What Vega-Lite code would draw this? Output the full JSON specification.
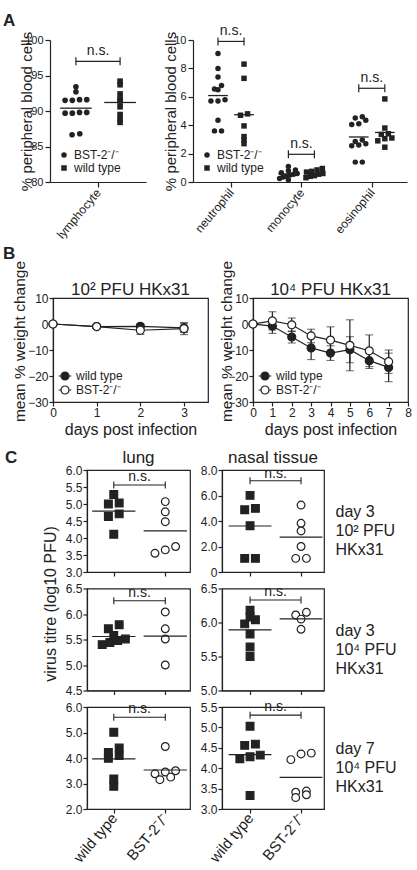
{
  "$schema": "https://vega.github.io/schema/vega-lite/v6.json",
  "padding": {"left": 2, "top": 12, "right": 2, "bottom": 0},
  "spacing": 0,
  "resolve": {"scale": {"shape": "independent", "fill": "independent"}, "legend": {"shape": "independent", "fill": "independent"}},
  "datasets": {
    "blood": [
      {"cell": "lymphocyte", "genotype": "BST-2⁻/⁻", "pct": 93.4},
      {"cell": "lymphocyte", "genotype": "BST-2⁻/⁻", "pct": 92.7},
      {"cell": "lymphocyte", "genotype": "BST-2⁻/⁻", "pct": 91.6},
      {"cell": "lymphocyte", "genotype": "BST-2⁻/⁻", "pct": 91.6},
      {"cell": "lymphocyte", "genotype": "BST-2⁻/⁻", "pct": 91.5},
      {"cell": "lymphocyte", "genotype": "BST-2⁻/⁻", "pct": 91.5},
      {"cell": "lymphocyte", "genotype": "BST-2⁻/⁻", "pct": 89.8},
      {"cell": "lymphocyte", "genotype": "BST-2⁻/⁻", "pct": 89.8},
      {"cell": "lymphocyte", "genotype": "BST-2⁻/⁻", "pct": 89.7},
      {"cell": "lymphocyte", "genotype": "BST-2⁻/⁻", "pct": 89.7},
      {"cell": "lymphocyte", "genotype": "BST-2⁻/⁻", "pct": 86.65},
      {"cell": "lymphocyte", "genotype": "BST-2⁻/⁻", "pct": 86.8},
      {"cell": "lymphocyte", "genotype": "wild type", "pct": 94.2},
      {"cell": "lymphocyte", "genotype": "wild type", "pct": 93.7},
      {"cell": "lymphocyte", "genotype": "wild type", "pct": 92.4},
      {"cell": "lymphocyte", "genotype": "wild type", "pct": 91.7},
      {"cell": "lymphocyte", "genotype": "wild type", "pct": 91.4},
      {"cell": "lymphocyte", "genotype": "wild type", "pct": 90.6},
      {"cell": "lymphocyte", "genotype": "wild type", "pct": 89.5},
      {"cell": "lymphocyte", "genotype": "wild type", "pct": 88.9},
      {"cell": "lymphocyte", "genotype": "wild type", "pct": 88.4},
      {"cell": "neutrophil", "genotype": "BST-2⁻/⁻", "pct": 9.05},
      {"cell": "neutrophil", "genotype": "BST-2⁻/⁻", "pct": 8.0},
      {"cell": "neutrophil", "genotype": "BST-2⁻/⁻", "pct": 7.4},
      {"cell": "neutrophil", "genotype": "BST-2⁻/⁻", "pct": 6.8},
      {"cell": "neutrophil", "genotype": "BST-2⁻/⁻", "pct": 6.55},
      {"cell": "neutrophil", "genotype": "BST-2⁻/⁻", "pct": 6.5},
      {"cell": "neutrophil", "genotype": "BST-2⁻/⁻", "pct": 5.8},
      {"cell": "neutrophil", "genotype": "BST-2⁻/⁻", "pct": 5.7},
      {"cell": "neutrophil", "genotype": "BST-2⁻/⁻", "pct": 5.7},
      {"cell": "neutrophil", "genotype": "BST-2⁻/⁻", "pct": 4.35},
      {"cell": "neutrophil", "genotype": "BST-2⁻/⁻", "pct": 3.6},
      {"cell": "neutrophil", "genotype": "BST-2⁻/⁻", "pct": 3.6},
      {"cell": "neutrophil", "genotype": "wild type", "pct": 8.3},
      {"cell": "neutrophil", "genotype": "wild type", "pct": 7.3},
      {"cell": "neutrophil", "genotype": "wild type", "pct": 4.8},
      {"cell": "neutrophil", "genotype": "wild type", "pct": 4.7},
      {"cell": "neutrophil", "genotype": "wild type", "pct": 3.95},
      {"cell": "neutrophil", "genotype": "wild type", "pct": 3.2},
      {"cell": "neutrophil", "genotype": "wild type", "pct": 2.95},
      {"cell": "neutrophil", "genotype": "wild type", "pct": 2.7},
      {"cell": "monocyte", "genotype": "BST-2⁻/⁻", "pct": 1.1},
      {"cell": "monocyte", "genotype": "BST-2⁻/⁻", "pct": 0.85},
      {"cell": "monocyte", "genotype": "BST-2⁻/⁻", "pct": 0.8},
      {"cell": "monocyte", "genotype": "BST-2⁻/⁻", "pct": 0.65},
      {"cell": "monocyte", "genotype": "BST-2⁻/⁻", "pct": 0.6},
      {"cell": "monocyte", "genotype": "BST-2⁻/⁻", "pct": 0.55},
      {"cell": "monocyte", "genotype": "BST-2⁻/⁻", "pct": 0.5},
      {"cell": "monocyte", "genotype": "BST-2⁻/⁻", "pct": 0.4},
      {"cell": "monocyte", "genotype": "BST-2⁻/⁻", "pct": 0.35},
      {"cell": "monocyte", "genotype": "BST-2⁻/⁻", "pct": 0.25},
      {"cell": "monocyte", "genotype": "BST-2⁻/⁻", "pct": 0.15},
      {"cell": "monocyte", "genotype": "wild type", "pct": 0.95},
      {"cell": "monocyte", "genotype": "wild type", "pct": 0.85},
      {"cell": "monocyte", "genotype": "wild type", "pct": 0.75},
      {"cell": "monocyte", "genotype": "wild type", "pct": 0.7},
      {"cell": "monocyte", "genotype": "wild type", "pct": 0.6},
      {"cell": "monocyte", "genotype": "wild type", "pct": 0.55},
      {"cell": "monocyte", "genotype": "wild type", "pct": 0.45},
      {"cell": "monocyte", "genotype": "wild type", "pct": 0.4},
      {"cell": "monocyte", "genotype": "wild type", "pct": 0.3},
      {"cell": "eosinophil", "genotype": "BST-2⁻/⁻", "pct": 4.6},
      {"cell": "eosinophil", "genotype": "BST-2⁻/⁻", "pct": 4.5},
      {"cell": "eosinophil", "genotype": "BST-2⁻/⁻", "pct": 4.35},
      {"cell": "eosinophil", "genotype": "BST-2⁻/⁻", "pct": 4.1},
      {"cell": "eosinophil", "genotype": "BST-2⁻/⁻", "pct": 4.05},
      {"cell": "eosinophil", "genotype": "BST-2⁻/⁻", "pct": 2.95},
      {"cell": "eosinophil", "genotype": "BST-2⁻/⁻", "pct": 2.85},
      {"cell": "eosinophil", "genotype": "BST-2⁻/⁻", "pct": 2.7},
      {"cell": "eosinophil", "genotype": "BST-2⁻/⁻", "pct": 2.6},
      {"cell": "eosinophil", "genotype": "BST-2⁻/⁻", "pct": 2.55},
      {"cell": "eosinophil", "genotype": "BST-2⁻/⁻", "pct": 1.4},
      {"cell": "eosinophil", "genotype": "BST-2⁻/⁻", "pct": 1.4},
      {"cell": "eosinophil", "genotype": "wild type", "pct": 5.85},
      {"cell": "eosinophil", "genotype": "wild type", "pct": 3.8},
      {"cell": "eosinophil", "genotype": "wild type", "pct": 3.4},
      {"cell": "eosinophil", "genotype": "wild type", "pct": 3.35},
      {"cell": "eosinophil", "genotype": "wild type", "pct": 3.1},
      {"cell": "eosinophil", "genotype": "wild type", "pct": 3.05},
      {"cell": "eosinophil", "genotype": "wild type", "pct": 2.9},
      {"cell": "eosinophil", "genotype": "wild type", "pct": 2.45}
    ],
    "bloodBrackets": [
      {"cell": "lymphocyte", "pct": 97, "label": "n.s."},
      {"cell": "neutrophil", "pct": 9.9, "label": "n.s."},
      {"cell": "monocyte", "pct": 1.95, "label": "n.s."},
      {"cell": "eosinophil", "pct": 6.6, "label": "n.s."}
    ],
    "weight": [
      {"dose": "1e2", "genotype": "wild type", "day": 0, "mean": 0, "sd": 0},
      {"dose": "1e2", "genotype": "wild type", "day": 1, "mean": -1.0, "sd": 0.6},
      {"dose": "1e2", "genotype": "wild type", "day": 2, "mean": -0.9, "sd": 1.0},
      {"dose": "1e2", "genotype": "wild type", "day": 3, "mean": -1.5, "sd": 1.8},
      {"dose": "1e2", "genotype": "BST-2⁻/⁻", "day": 0, "mean": 0, "sd": 0},
      {"dose": "1e2", "genotype": "BST-2⁻/⁻", "day": 1, "mean": -1.0, "sd": 0.5},
      {"dose": "1e2", "genotype": "BST-2⁻/⁻", "day": 2, "mean": -2.4, "sd": 1.6},
      {"dose": "1e2", "genotype": "BST-2⁻/⁻", "day": 3, "mean": -1.8, "sd": 2.3},
      {"dose": "1e4", "genotype": "wild type", "day": 0, "mean": 0, "sd": 0},
      {"dose": "1e4", "genotype": "wild type", "day": 1, "mean": -0.8, "sd": 2.8},
      {"dose": "1e4", "genotype": "wild type", "day": 2, "mean": -5.0, "sd": 2.3},
      {"dose": "1e4", "genotype": "wild type", "day": 3, "mean": -9.2, "sd": 4.5},
      {"dose": "1e4", "genotype": "wild type", "day": 4, "mean": -11.2, "sd": 2.8},
      {"dose": "1e4", "genotype": "wild type", "day": 5, "mean": -9.9, "sd": 5.0},
      {"dose": "1e4", "genotype": "wild type", "day": 6, "mean": -14.1, "sd": 3.0},
      {"dose": "1e4", "genotype": "wild type", "day": 7, "mean": -16.7, "sd": 5.5},
      {"dose": "1e4", "genotype": "BST-2⁻/⁻", "day": 0, "mean": 0, "sd": 0},
      {"dose": "1e4", "genotype": "BST-2⁻/⁻", "day": 1, "mean": 1.2, "sd": 3.5},
      {"dose": "1e4", "genotype": "BST-2⁻/⁻", "day": 2, "mean": -0.3, "sd": 2.6},
      {"dose": "1e4", "genotype": "BST-2⁻/⁻", "day": 3, "mean": -4.6, "sd": 2.6},
      {"dose": "1e4", "genotype": "BST-2⁻/⁻", "day": 4, "mean": -6.2, "sd": 5.1},
      {"dose": "1e4", "genotype": "BST-2⁻/⁻", "day": 5, "mean": -8.2, "sd": 9.8},
      {"dose": "1e4", "genotype": "BST-2⁻/⁻", "day": 6, "mean": -10.3, "sd": 6.1},
      {"dose": "1e4", "genotype": "BST-2⁻/⁻", "day": 7, "mean": -14.5, "sd": 4.5}
    ],
    "titre": [
      {"tissue": "lung", "infection": "d3-1e2", "genotype": "wild type", "log10pfu": 5.28},
      {"tissue": "lung", "infection": "d3-1e2", "genotype": "wild type", "log10pfu": 5.03},
      {"tissue": "lung", "infection": "d3-1e2", "genotype": "wild type", "log10pfu": 5.0},
      {"tissue": "lung", "infection": "d3-1e2", "genotype": "wild type", "log10pfu": 4.71},
      {"tissue": "lung", "infection": "d3-1e2", "genotype": "wild type", "log10pfu": 4.63},
      {"tissue": "lung", "infection": "d3-1e2", "genotype": "wild type", "log10pfu": 4.11},
      {"tissue": "lung", "infection": "d3-1e2", "genotype": "BST-2⁻/⁻", "log10pfu": 5.07},
      {"tissue": "lung", "infection": "d3-1e2", "genotype": "BST-2⁻/⁻", "log10pfu": 4.77},
      {"tissue": "lung", "infection": "d3-1e2", "genotype": "BST-2⁻/⁻", "log10pfu": 4.48},
      {"tissue": "lung", "infection": "d3-1e2", "genotype": "BST-2⁻/⁻", "log10pfu": 3.75},
      {"tissue": "lung", "infection": "d3-1e2", "genotype": "BST-2⁻/⁻", "log10pfu": 3.65},
      {"tissue": "lung", "infection": "d3-1e2", "genotype": "BST-2⁻/⁻", "log10pfu": 3.55},
      {"tissue": "nasal tissue", "infection": "d3-1e2", "genotype": "wild type", "log10pfu": 6.01},
      {"tissue": "nasal tissue", "infection": "d3-1e2", "genotype": "wild type", "log10pfu": 4.99},
      {"tissue": "nasal tissue", "infection": "d3-1e2", "genotype": "wild type", "log10pfu": 4.88},
      {"tissue": "nasal tissue", "infection": "d3-1e2", "genotype": "wild type", "log10pfu": 3.63},
      {"tissue": "nasal tissue", "infection": "d3-1e2", "genotype": "wild type", "log10pfu": 1.07},
      {"tissue": "nasal tissue", "infection": "d3-1e2", "genotype": "wild type", "log10pfu": 1.07},
      {"tissue": "nasal tissue", "infection": "d3-1e2", "genotype": "BST-2⁻/⁻", "log10pfu": 5.25},
      {"tissue": "nasal tissue", "infection": "d3-1e2", "genotype": "BST-2⁻/⁻", "log10pfu": 3.82},
      {"tissue": "nasal tissue", "infection": "d3-1e2", "genotype": "BST-2⁻/⁻", "log10pfu": 3.22},
      {"tissue": "nasal tissue", "infection": "d3-1e2", "genotype": "BST-2⁻/⁻", "log10pfu": 2.0},
      {"tissue": "nasal tissue", "infection": "d3-1e2", "genotype": "BST-2⁻/⁻", "log10pfu": 1.07},
      {"tissue": "nasal tissue", "infection": "d3-1e2", "genotype": "BST-2⁻/⁻", "log10pfu": 1.07},
      {"tissue": "lung", "infection": "d3-1e4", "genotype": "wild type", "log10pfu": 5.79},
      {"tissue": "lung", "infection": "d3-1e4", "genotype": "wild type", "log10pfu": 5.71},
      {"tissue": "lung", "infection": "d3-1e4", "genotype": "wild type", "log10pfu": 5.58},
      {"tissue": "lung", "infection": "d3-1e4", "genotype": "wild type", "log10pfu": 5.51},
      {"tissue": "lung", "infection": "d3-1e4", "genotype": "wild type", "log10pfu": 5.48},
      {"tissue": "lung", "infection": "d3-1e4", "genotype": "wild type", "log10pfu": 5.44},
      {"tissue": "lung", "infection": "d3-1e4", "genotype": "wild type", "log10pfu": 5.40},
      {"tissue": "lung", "infection": "d3-1e4", "genotype": "BST-2⁻/⁻", "log10pfu": 6.04},
      {"tissue": "lung", "infection": "d3-1e4", "genotype": "BST-2⁻/⁻", "log10pfu": 5.71},
      {"tissue": "lung", "infection": "d3-1e4", "genotype": "BST-2⁻/⁻", "log10pfu": 5.51},
      {"tissue": "lung", "infection": "d3-1e4", "genotype": "BST-2⁻/⁻", "log10pfu": 5.0},
      {"tissue": "nasal tissue", "infection": "d3-1e4", "genotype": "wild type", "log10pfu": 6.18},
      {"tissue": "nasal tissue", "infection": "d3-1e4", "genotype": "wild type", "log10pfu": 6.08},
      {"tissue": "nasal tissue", "infection": "d3-1e4", "genotype": "wild type", "log10pfu": 6.04},
      {"tissue": "nasal tissue", "infection": "d3-1e4", "genotype": "wild type", "log10pfu": 5.98},
      {"tissue": "nasal tissue", "infection": "d3-1e4", "genotype": "wild type", "log10pfu": 5.83},
      {"tissue": "nasal tissue", "infection": "d3-1e4", "genotype": "wild type", "log10pfu": 5.64},
      {"tissue": "nasal tissue", "infection": "d3-1e4", "genotype": "wild type", "log10pfu": 5.5},
      {"tissue": "nasal tissue", "infection": "d3-1e4", "genotype": "BST-2⁻/⁻", "log10pfu": 6.15},
      {"tissue": "nasal tissue", "infection": "d3-1e4", "genotype": "BST-2⁻/⁻", "log10pfu": 6.11},
      {"tissue": "nasal tissue", "infection": "d3-1e4", "genotype": "BST-2⁻/⁻", "log10pfu": 6.05},
      {"tissue": "nasal tissue", "infection": "d3-1e4", "genotype": "BST-2⁻/⁻", "log10pfu": 5.9},
      {"tissue": "lung", "infection": "d7-1e4", "genotype": "wild type", "log10pfu": 5.01},
      {"tissue": "lung", "infection": "d7-1e4", "genotype": "wild type", "log10pfu": 4.39},
      {"tissue": "lung", "infection": "d7-1e4", "genotype": "wild type", "log10pfu": 4.22},
      {"tissue": "lung", "infection": "d7-1e4", "genotype": "wild type", "log10pfu": 4.10},
      {"tissue": "lung", "infection": "d7-1e4", "genotype": "wild type", "log10pfu": 3.99},
      {"tissue": "lung", "infection": "d7-1e4", "genotype": "wild type", "log10pfu": 3.18},
      {"tissue": "lung", "infection": "d7-1e4", "genotype": "wild type", "log10pfu": 2.89},
      {"tissue": "lung", "infection": "d7-1e4", "genotype": "BST-2⁻/⁻", "log10pfu": 4.45},
      {"tissue": "lung", "infection": "d7-1e4", "genotype": "BST-2⁻/⁻", "log10pfu": 3.5},
      {"tissue": "lung", "infection": "d7-1e4", "genotype": "BST-2⁻/⁻", "log10pfu": 3.45},
      {"tissue": "lung", "infection": "d7-1e4", "genotype": "BST-2⁻/⁻", "log10pfu": 3.38},
      {"tissue": "lung", "infection": "d7-1e4", "genotype": "BST-2⁻/⁻", "log10pfu": 3.25},
      {"tissue": "lung", "infection": "d7-1e4", "genotype": "BST-2⁻/⁻", "log10pfu": 3.15},
      {"tissue": "nasal tissue", "infection": "d7-1e4", "genotype": "wild type", "log10pfu": 5.03},
      {"tissue": "nasal tissue", "infection": "d7-1e4", "genotype": "wild type", "log10pfu": 4.59},
      {"tissue": "nasal tissue", "infection": "d7-1e4", "genotype": "wild type", "log10pfu": 4.56},
      {"tissue": "nasal tissue", "infection": "d7-1e4", "genotype": "wild type", "log10pfu": 4.32},
      {"tissue": "nasal tissue", "infection": "d7-1e4", "genotype": "wild type", "log10pfu": 4.28},
      {"tissue": "nasal tissue", "infection": "d7-1e4", "genotype": "wild type", "log10pfu": 4.23},
      {"tissue": "nasal tissue", "infection": "d7-1e4", "genotype": "wild type", "log10pfu": 3.33},
      {"tissue": "nasal tissue", "infection": "d7-1e4", "genotype": "BST-2⁻/⁻", "log10pfu": 4.37},
      {"tissue": "nasal tissue", "infection": "d7-1e4", "genotype": "BST-2⁻/⁻", "log10pfu": 4.35},
      {"tissue": "nasal tissue", "infection": "d7-1e4", "genotype": "BST-2⁻/⁻", "log10pfu": 4.21},
      {"tissue": "nasal tissue", "infection": "d7-1e4", "genotype": "BST-2⁻/⁻", "log10pfu": 3.44},
      {"tissue": "nasal tissue", "infection": "d7-1e4", "genotype": "BST-2⁻/⁻", "log10pfu": 3.41},
      {"tissue": "nasal tissue", "infection": "d7-1e4", "genotype": "BST-2⁻/⁻", "log10pfu": 3.35},
      {"tissue": "nasal tissue", "infection": "d7-1e4", "genotype": "BST-2⁻/⁻", "log10pfu": 3.28}
    ],
    "titreBrackets": [
      {"tissue": "lung", "infection": "d3-1e2", "log10pfu": 5.56, "label": "n.s."},
      {"tissue": "nasal tissue", "infection": "d3-1e2", "log10pfu": 7.16, "label": "n.s."},
      {"tissue": "lung", "infection": "d3-1e4", "log10pfu": 6.26, "label": "n.s."},
      {"tissue": "nasal tissue", "infection": "d3-1e4", "log10pfu": 6.33, "label": "n.s."},
      {"tissue": "lung", "infection": "d7-1e4", "log10pfu": 5.6, "label": "n.s."},
      {"tissue": "nasal tissue", "infection": "d7-1e4", "log10pfu": 5.3, "label": "n.s."}
    ],
    "conditions": [
      {"infection": "d3-1e2", "label": "day 3\n10² PFU\nHKx31"},
      {"infection": "d3-1e4", "label": "day 3\n10⁴ PFU\nHKx31"},
      {"infection": "d7-1e4", "label": "day 7\n10⁴ PFU\nHKx31"}
    ]
  },
  "vconcat": [
    {
      "bounds": "flush",
      "spacing": 47,
      "resolve": {"scale": {"shape": "independent", "fill": "independent"}, "legend": {"shape": "independent", "fill": "independent"}},
      "hconcat": [
        {
          "width": 1, "height": 204.5,
          "title": {"text": "A", "anchor": "start", "dx": 1, "fontSize": 17, "fontWeight": "bold", "offset": 10},
          "data": {"values": []}, "mark": {"type": "point", "opacity": 0}, "encoding": {}
        },
        {
          "width": 96,
          "height": 142,
          "encoding": {
            "x": {"field": "xpos", "type": "quantitative", "title": null, "scale": {"domain": [0, 2], "nice": false, "zero": false},
              "axis": {"values": [1], "labelExpr": "'lymphocyte'", "labelAngle": -50, "labelAlign": "right", "labelBaseline": "middle", "labelFontSize": 12, "tickSize": 5, "labelPadding": 3}},
            "y": {"field": "pct", "type": "quantitative", "title": "% peripheral blood cells", "scale": {"domain": [80, 100], "nice": false, "zero": false},
              "axis": {"values": [80, 85, 90, 95, 100], "labelFontSize": 11, "tickSize": 5, "titleFontSize": 15, "titleX": -16}}
          },
          "layer": [
            {
              "data": {"name": "blood"},
              "transform": [
                {"filter": "datum.cell === 'lymphocyte'"},
                {"calculate": "round(datum.pct / 0.3)", "as": "bin"},
                {"window": [{"op": "row_number", "as": "r"}, {"op": "count", "as": "n"}], "groupby": ["genotype", "bin"], "sort": [{"field": "pct"}], "frame": [null, null]},
                {"calculate": "1 + (datum.genotype === 'wild type' ? 0.46 : -0.46) + (datum.r - (datum.n + 1) / 2) * min(0.16, 0.6 / datum.n)", "as": "xpos"}
              ],
              "mark": {"type": "point", "filled": true, "opacity": 1, "size": 32, "color": "#222"},
              "encoding": {
                "shape": {"field": "genotype", "type": "nominal", "scale": {"domain": ["BST-2⁻/⁻", "wild type"], "range": ["circle", "square"]},
                  "legend": {"orient": "bottom-left", "title": null, "offset": 8, "padding": 0, "labelFontSize": 12, "symbolSize": 30, "symbolFillColor": "#222", "symbolStrokeColor": "#222", "symbolStrokeWidth": 0, "rowPadding": 1, "labelOffset": 4}}
              }
            },
            {
              "data": {"name": "blood"},
              "transform": [
                {"filter": "datum.cell === 'lymphocyte'"},
                {"aggregate": [{"op": "mean", "field": "pct", "as": "pct"}], "groupby": ["genotype"]},
                {"calculate": "1 + (datum.genotype === 'wild type' ? 0.46 : -0.46)", "as": "xc"},
                {"calculate": "datum.xc - 0.33", "as": "xpos"},
                {"calculate": "datum.xc + 0.33", "as": "xr"}
              ],
              "mark": {"type": "rule", "color": "#222", "strokeWidth": 1.3},
              "encoding": {"x2": {"field": "xr"}}
            },
            {
              "data": {"name": "bloodBrackets"},
              "transform": [{"filter": "datum.cell === 'lymphocyte'"}, {"calculate": "0.54", "as": "xpos"}, {"calculate": "1.46", "as": "xr"}],
              "mark": {"type": "rule", "color": "#222", "strokeWidth": 1.2},
              "encoding": {"x2": {"field": "xr"}}
            },
            {
              "data": {"name": "bloodBrackets"},
              "transform": [{"filter": "datum.cell === 'lymphocyte'"}, {"calculate": "0.54", "as": "xl"}, {"calculate": "1.46", "as": "xr"}, {"fold": ["xl", "xr"], "as": ["end", "xpos"]}],
              "mark": {"type": "tick", "orient": "vertical", "size": 8, "thickness": 1.2, "color": "#222", "opacity": 1}
            },
            {
              "data": {"name": "bloodBrackets"},
              "transform": [{"filter": "datum.cell === 'lymphocyte'"}, {"calculate": "1", "as": "xpos"}],
              "mark": {"type": "text", "baseline": "bottom", "dy": -3, "fontSize": 14, "color": "#222"},
              "encoding": {"text": {"field": "label"}}
            }
          ]
        },
        {
          "width": 214,
          "height": 142,
          "encoding": {
            "x": {"field": "xpos", "type": "quantitative", "title": null, "scale": {"domain": [0.46, 3.5], "nice": false, "zero": false},
              "axis": {"values": [1, 2, 3], "labelExpr": "['', 'neutrophil', 'monocyte', 'eosinophil'][datum.value]", "labelAngle": -50, "labelAlign": "right", "labelBaseline": "middle", "labelFontSize": 12, "tickSize": 5, "labelPadding": 3}},
            "y": {"field": "pct", "type": "quantitative", "title": "% peripheral blood cells", "scale": {"domain": [0, 10], "nice": false, "zero": false},
              "axis": {"values": [0, 2, 4, 6, 8, 10], "labelFontSize": 11, "tickSize": 5, "titleFontSize": 15, "titleX": -15}}
          },
          "layer": [
            {
              "data": {"name": "blood"},
              "transform": [
                {"filter": "datum.cell !== 'lymphocyte'"},
                {"calculate": "indexof(['neutrophil', 'monocyte', 'eosinophil'], datum.cell) + 1", "as": "cat"},
                {"calculate": "round(datum.pct / 0.42)", "as": "bin"},
                {"window": [{"op": "row_number", "as": "r"}, {"op": "count", "as": "n"}], "groupby": ["cell", "genotype", "bin"], "sort": [{"field": "pct"}], "frame": [null, null]},
                {"calculate": "datum.cat + (datum.genotype === 'wild type' ? 0.185 : -0.185) + (datum.r - (datum.n + 1) / 2) * min(0.1, 0.3 / datum.n)", "as": "xpos"}
              ],
              "mark": {"type": "point", "filled": true, "opacity": 1, "size": 30, "color": "#222"},
              "encoding": {
                "shape": {"field": "genotype", "type": "nominal", "scale": {"domain": ["BST-2⁻/⁻", "wild type"], "range": ["circle", "square"]},
                  "legend": {"orient": "bottom-left", "title": null, "offset": 8, "padding": 0, "labelFontSize": 12, "symbolSize": 30, "symbolFillColor": "#222", "symbolStrokeColor": "#222", "symbolStrokeWidth": 0, "rowPadding": 1, "labelOffset": 4}}
              }
            },
            {
              "data": {"name": "blood"},
              "transform": [
                {"filter": "datum.cell !== 'lymphocyte'"},
                {"aggregate": [{"op": "mean", "field": "pct", "as": "pct"}], "groupby": ["cell", "genotype"]},
                {"calculate": "indexof(['neutrophil', 'monocyte', 'eosinophil'], datum.cell) + 1 + (datum.genotype === 'wild type' ? 0.185 : -0.185)", "as": "xc"},
                {"calculate": "datum.xc - 0.14", "as": "xpos"},
                {"calculate": "datum.xc + 0.14", "as": "xr"}
              ],
              "mark": {"type": "rule", "color": "#222", "strokeWidth": 1.3},
              "encoding": {"x2": {"field": "xr"}}
            },
            {
              "data": {"name": "bloodBrackets"},
              "transform": [
                {"filter": "datum.cell !== 'lymphocyte'"},
                {"calculate": "indexof(['neutrophil', 'monocyte', 'eosinophil'], datum.cell) + 1", "as": "xm"},
                {"calculate": "datum.xm - 0.185", "as": "xpos"},
                {"calculate": "datum.xm + 0.185", "as": "xr"}
              ],
              "mark": {"type": "rule", "color": "#222", "strokeWidth": 1.2},
              "encoding": {"x2": {"field": "xr"}}
            },
            {
              "data": {"name": "bloodBrackets"},
              "transform": [
                {"filter": "datum.cell !== 'lymphocyte'"},
                {"calculate": "indexof(['neutrophil', 'monocyte', 'eosinophil'], datum.cell) + 1", "as": "xm"},
                {"calculate": "datum.xm - 0.185", "as": "xl"},
                {"calculate": "datum.xm + 0.185", "as": "xr"},
                {"fold": ["xl", "xr"], "as": ["end", "xpos"]}
              ],
              "mark": {"type": "tick", "orient": "vertical", "size": 8, "thickness": 1.2, "color": "#222", "opacity": 1}
            },
            {
              "data": {"name": "bloodBrackets"},
              "transform": [
                {"filter": "datum.cell !== 'lymphocyte'"},
                {"calculate": "indexof(['neutrophil', 'monocyte', 'eosinophil'], datum.cell) + 1", "as": "xpos"}
              ],
              "mark": {"type": "text", "baseline": "bottom", "dy": -3, "fontSize": 14, "color": "#222"},
              "encoding": {"text": {"field": "label"}}
            }
          ]
        }
      ]
    },
    {
      "bounds": "flush",
      "spacing": 45,
      "resolve": {"scale": {"shape": "independent", "fill": "independent"}, "legend": {"shape": "independent", "fill": "independent"}},
      "hconcat": [
        {
          "width": 6, "height": 149.5,
          "title": {"text": "B", "anchor": "start", "dx": 1, "fontSize": 17, "fontWeight": "bold", "offset": 35},
          "data": {"values": []}, "mark": {"type": "point", "opacity": 0}, "encoding": {}
        },
        {
          "width": 155,
          "height": 104,
          "title": {"text": "10² PFU HKx31", "fontSize": 17, "offset": -39},
          "view": {"stroke": "#222", "strokeWidth": 1.2},
          "data": {"name": "weight"},
          "transform": [{"filter": "datum.dose === '1e2'"}],
          "encoding": {
            "x": {"field": "day", "type": "quantitative", "title": "days post infection", "scale": {"domain": [0, 3.55], "nice": false, "zero": false},
              "axis": {"values": [0, 1, 2, 3], "labelFontSize": 12, "titleFontSize": 16, "tickSize": 4, "labelPadding": 1, "titlePadding": 3}},
            "y": {"field": "mean", "type": "quantitative", "title": "mean % weight change", "scale": {"domain": [-30, 10], "nice": false, "zero": false},
              "axis": {"values": [-30, -20, -10, 0, 10], "labelFontSize": 12, "tickSize": 4, "labelPadding": 1, "titleFontSize": 15.5, "titleX": -26, "titleY": 43}}
          },
          "layer": [
            {"mark": {"type": "errorbar", "ticks": {"size": 8, "color": "#222"}, "rule": {"color": "#222", "strokeWidth": 1.2}}, "encoding": {"yError": {"field": "sd"}}},
            {"mark": {"type": "line", "color": "#222", "strokeWidth": 1.2}, "encoding": {"detail": {"field": "genotype"}}},
            {
              "mark": {"type": "point", "shape": "circle", "size": 64, "opacity": 1, "stroke": "#222", "strokeWidth": 1.2},
              "encoding": {
                "fill": {"field": "genotype", "type": "nominal", "scale": {"domain": ["wild type", "BST-2⁻/⁻"], "range": ["#222", "white"]},
                  "legend": {"orient": "bottom-left", "title": null, "offset": 5, "padding": 0, "labelFontSize": 12, "symbolType": "M-1,0L-0.63,0M0.63,0L1,0M0.63,0A0.63,0.63,0,1,1,-0.63,0A0.63,0.63,0,1,1,0.63,0Z", "symbolSize": 160, "symbolStrokeColor": "#222", "symbolStrokeWidth": 1.2, "rowPadding": 0, "labelOffset": 4}}
              }
            }
          ]
        },
        {
          "width": 155,
          "height": 104,
          "title": {"text": "10⁴ PFU HKx31", "fontSize": 17, "offset": -39},
          "view": {"stroke": "#222", "strokeWidth": 1.2},
          "data": {"name": "weight"},
          "transform": [{"filter": "datum.dose === '1e4'"}],
          "encoding": {
            "x": {"field": "day", "type": "quantitative", "title": "days post infection", "scale": {"domain": [0, 8], "nice": false, "zero": false},
              "axis": {"values": [0, 1, 2, 3, 4, 5, 6, 7, 8], "labelFontSize": 12, "titleFontSize": 16, "tickSize": 4, "labelPadding": 1, "titlePadding": 3}},
            "y": {"field": "mean", "type": "quantitative", "title": "mean % weight change", "scale": {"domain": [-30, 10], "nice": false, "zero": false},
              "axis": {"values": [-30, -20, -10, 0, 10], "labelFontSize": 12, "tickSize": 4, "labelPadding": 1, "titleFontSize": 15.5, "titleX": -19, "titleY": 43}}
          },
          "layer": [
            {"mark": {"type": "errorbar", "ticks": {"size": 8, "color": "#222"}, "rule": {"color": "#222", "strokeWidth": 1.2}}, "encoding": {"yError": {"field": "sd"}}},
            {"mark": {"type": "line", "color": "#222", "strokeWidth": 1.2}, "encoding": {"detail": {"field": "genotype"}}},
            {
              "mark": {"type": "point", "shape": "circle", "size": 64, "opacity": 1, "stroke": "#222", "strokeWidth": 1.2},
              "encoding": {
                "fill": {"field": "genotype", "type": "nominal", "scale": {"domain": ["wild type", "BST-2⁻/⁻"], "range": ["#222", "white"]},
                  "legend": {"orient": "bottom-left", "title": null, "offset": 5, "padding": 0, "labelFontSize": 12, "symbolType": "M-1,0L-0.63,0M0.63,0L1,0M0.63,0A0.63,0.63,0,1,1,-0.63,0A0.63,0.63,0,1,1,0.63,0Z", "symbolSize": 160, "symbolStrokeColor": "#222", "symbolStrokeWidth": 1.2, "rowPadding": 0, "labelOffset": 4}}
              }
            }
          ]
        }
      ]
    },
    {
      "bounds": "flush",
      "columns": 4,
      "align": "each",
      "spacing": {"row": 16.5, "column": 32},
      "resolve": {"scale": {"shape": "independent", "fill": "independent"}, "legend": {"shape": "independent", "fill": "independent"}},
      "concat": [
        {
          "width": 53, "height": 1,
          "title": {"text": "C", "anchor": "start", "dx": 3, "fontSize": 17, "fontWeight": "bold", "offset": 3},
          "data": {"values": []}, "mark": {"type": "point", "opacity": 0}, "encoding": {}
        },
        {
          "width": 103,
          "height": 102,
          "title": {"text": "lung", "fontSize": 17, "offset": -3},
          "view": {"stroke": "#222", "strokeWidth": 1.2},
          "encoding": {
            "x": {"field": "xpos", "type": "quantitative", "title": null, "scale": {"domain": [0.48, 2.48], "nice": false, "zero": false}, "axis": {"values": [1, 2], "labels": false, "tickSize": 4}},
            "y": {"field": "log10pfu", "type": "quantitative", "title": null, "scale": {"domain": [3, 6], "nice": false, "zero": false}, "axis": {"values": [3, 3.5, 4, 4.5, 5, 5.5, 6], "format": ".1f", "labelFontSize": 12, "tickSize": 4, "labelPadding": 1}}
          },
          "layer": [
            {
              "data": {"name": "titre"},
              "transform": [
                {"filter": "datum.tissue === 'lung' && datum.infection === 'd3-1e2'"},
                {"calculate": "round(datum.log10pfu / 0.28)", "as": "bin"},
                {"window": [{"op": "row_number", "as": "r"}, {"op": "count", "as": "n"}], "groupby": ["genotype", "bin"], "sort": [{"field": "log10pfu"}], "frame": [null, null]},
                {"calculate": "(datum.genotype === 'wild type' ? 1 : 2) + (datum.r - (datum.n + 1) / 2) * min(0.21, 0.6 / datum.n)", "as": "xpos"}
              ],
              "mark": {"type": "point", "opacity": 1, "size": 60, "stroke": "#222", "strokeWidth": 1.2},
              "encoding": {
                "shape": {"field": "genotype", "type": "nominal", "scale": {"domain": ["wild type", "BST-2⁻/⁻"], "range": ["square", "circle"]}, "legend": null},
                "fill": {"field": "genotype", "type": "nominal", "scale": {"domain": ["wild type", "BST-2⁻/⁻"], "range": ["#222", "white"]}, "legend": null}
              }
            },
            {
              "data": {"name": "titre"},
              "transform": [
                {"filter": "datum.tissue === 'lung' && datum.infection === 'd3-1e2'"},
                {"aggregate": [{"op": "mean", "field": "log10pfu", "as": "log10pfu"}], "groupby": ["genotype"]},
                {"calculate": "(datum.genotype === 'wild type' ? 1 : 2) - 0.42", "as": "xpos"},
                {"calculate": "(datum.genotype === 'wild type' ? 1 : 2) + 0.42", "as": "xr"}
              ],
              "mark": {"type": "rule", "color": "#222", "strokeWidth": 1.2},
              "encoding": {"x2": {"field": "xr"}}
            },
            {
              "data": {"name": "titreBrackets"},
              "transform": [{"filter": "datum.tissue === 'lung' && datum.infection === 'd3-1e2'"}, {"calculate": "1", "as": "xpos"}, {"calculate": "2", "as": "xr"}],
              "mark": {"type": "rule", "color": "#222", "strokeWidth": 1.1},
              "encoding": {"x2": {"field": "xr"}}
            },
            {
              "data": {"name": "titreBrackets"},
              "transform": [{"filter": "datum.tissue === 'lung' && datum.infection === 'd3-1e2'"}, {"calculate": "1", "as": "xl"}, {"calculate": "2", "as": "xr"}, {"fold": ["xl", "xr"], "as": ["end", "xpos"]}],
              "mark": {"type": "tick", "orient": "vertical", "size": 7, "thickness": 1.1, "color": "#222", "opacity": 1}
            },
            {
              "data": {"name": "titreBrackets"},
              "transform": [{"filter": "datum.tissue === 'lung' && datum.infection === 'd3-1e2'"}, {"calculate": "1.5", "as": "xpos"}],
              "mark": {"type": "text", "baseline": "bottom", "dy": -1, "fontSize": 14, "color": "#222"},
              "encoding": {"text": {"field": "label"}}
            }
          ]
        },
        {
          "width": 102,
          "height": 102,
          "title": {"text": "nasal tissue", "fontSize": 17, "offset": -3},
          "view": {"stroke": "#222", "strokeWidth": 1.2},
          "encoding": {
            "x": {"field": "xpos", "type": "quantitative", "title": null, "scale": {"domain": [0.45, 2.45], "nice": false, "zero": false}, "axis": {"values": [1, 2], "labels": false, "tickSize": 4}},
            "y": {"field": "log10pfu", "type": "quantitative", "title": null, "scale": {"domain": [0, 8], "nice": false, "zero": false}, "axis": {"values": [0, 2, 4, 6, 8], "labelExpr": "datum.value === 0 ? '0' : format(datum.value, '.1f')", "labelFontSize": 12, "tickSize": 4, "labelPadding": 1}}
          },
          "layer": [
            {
              "data": {"name": "titre"},
              "transform": [
                {"filter": "datum.tissue === 'nasal tissue' && datum.infection === 'd3-1e2'"},
                {"calculate": "round(datum.log10pfu / 0.63)", "as": "bin"},
                {"window": [{"op": "row_number", "as": "r"}, {"op": "count", "as": "n"}], "groupby": ["genotype", "bin"], "sort": [{"field": "log10pfu"}], "frame": [null, null]},
                {"calculate": "(datum.genotype === 'wild type' ? 1 : 2) + (datum.r - (datum.n + 1) / 2) * min(0.21, 0.6 / datum.n)", "as": "xpos"}
              ],
              "mark": {"type": "point", "opacity": 1, "size": 60, "stroke": "#222", "strokeWidth": 1.2},
              "encoding": {
                "shape": {"field": "genotype", "type": "nominal", "scale": {"domain": ["wild type", "BST-2⁻/⁻"], "range": ["square", "circle"]}, "legend": null},
                "fill": {"field": "genotype", "type": "nominal", "scale": {"domain": ["wild type", "BST-2⁻/⁻"], "range": ["#222", "white"]}, "legend": null}
              }
            },
            {
              "data": {"name": "titre"},
              "transform": [
                {"filter": "datum.tissue === 'nasal tissue' && datum.infection === 'd3-1e2'"},
                {"aggregate": [{"op": "mean", "field": "log10pfu", "as": "log10pfu"}], "groupby": ["genotype"]},
                {"calculate": "(datum.genotype === 'wild type' ? 1 : 2) - 0.42", "as": "xpos"},
                {"calculate": "(datum.genotype === 'wild type' ? 1 : 2) + 0.42", "as": "xr"}
              ],
              "mark": {"type": "rule", "color": "#222", "strokeWidth": 1.2},
              "encoding": {"x2": {"field": "xr"}}
            },
            {
              "data": {"name": "titreBrackets"},
              "transform": [{"filter": "datum.tissue === 'nasal tissue' && datum.infection === 'd3-1e2'"}, {"calculate": "1", "as": "xpos"}, {"calculate": "2", "as": "xr"}],
              "mark": {"type": "rule", "color": "#222", "strokeWidth": 1.1},
              "encoding": {"x2": {"field": "xr"}}
            },
            {
              "data": {"name": "titreBrackets"},
              "transform": [{"filter": "datum.tissue === 'nasal tissue' && datum.infection === 'd3-1e2'"}, {"calculate": "1", "as": "xl"}, {"calculate": "2", "as": "xr"}, {"fold": ["xl", "xr"], "as": ["end", "xpos"]}],
              "mark": {"type": "tick", "orient": "vertical", "size": 7, "thickness": 1.1, "color": "#222", "opacity": 1}
            },
            {
              "data": {"name": "titreBrackets"},
              "transform": [{"filter": "datum.tissue === 'nasal tissue' && datum.infection === 'd3-1e2'"}, {"calculate": "1.5", "as": "xpos"}],
              "mark": {"type": "text", "baseline": "bottom", "dy": 0, "fontSize": 14, "color": "#222"},
              "encoding": {"text": {"field": "label"}}
            }
          ]
        },
        {
          "width": 1,
          "height": 102,
          "data": {"name": "conditions"},
          "transform": [{"filter": "datum.infection === 'd3-1e2'"}],
          "mark": {"type": "text", "align": "left", "baseline": "middle", "fontSize": 16, "lineBreak": "\n", "lineHeight": 19, "dx": -21, "dy": -9, "color": "#222"},
          "encoding": {"text": {"field": "label", "type": "nominal"}}
        },
        {"width": 53, "height": 1, "data": {"values": []}, "mark": {"type": "point", "opacity": 0}, "encoding": {}},
        {
          "width": 103,
          "height": 102,
          "view": {"stroke": "#222", "strokeWidth": 1.2},
          "encoding": {
            "x": {"field": "xpos", "type": "quantitative", "title": null, "scale": {"domain": [0.48, 2.48], "nice": false, "zero": false}, "axis": {"values": [1, 2], "labels": false, "tickSize": 4}},
            "y": {"field": "log10pfu", "type": "quantitative", "title": "virus titre (log10 PFU)", "scale": {"domain": [4.5, 6.5], "nice": false, "zero": false}, "axis": {"values": [4.5, 5, 5.5, 6, 6.5], "format": ".1f", "labelFontSize": 12, "tickSize": 4, "labelPadding": 1, "titleFontSize": 16, "titleX": -29, "titleY": 15}}
          },
          "layer": [
            {
              "data": {"name": "titre"},
              "transform": [
                {"filter": "datum.tissue === 'lung' && datum.infection === 'd3-1e4'"},
                {"calculate": "round(datum.log10pfu / 0.16)", "as": "bin"},
                {"window": [{"op": "row_number", "as": "r"}, {"op": "count", "as": "n"}], "groupby": ["genotype", "bin"], "sort": [{"field": "log10pfu"}], "frame": [null, null]},
                {"calculate": "(datum.genotype === 'wild type' ? 1 : 2) + (datum.r - (datum.n + 1) / 2) * min(0.21, 0.6 / datum.n)", "as": "xpos"}
              ],
              "mark": {"type": "point", "opacity": 1, "size": 60, "stroke": "#222", "strokeWidth": 1.2},
              "encoding": {
                "shape": {"field": "genotype", "type": "nominal", "scale": {"domain": ["wild type", "BST-2⁻/⁻"], "range": ["square", "circle"]}, "legend": null},
                "fill": {"field": "genotype", "type": "nominal", "scale": {"domain": ["wild type", "BST-2⁻/⁻"], "range": ["#222", "white"]}, "legend": null}
              }
            },
            {
              "data": {"name": "titre"},
              "transform": [
                {"filter": "datum.tissue === 'lung' && datum.infection === 'd3-1e4'"},
                {"aggregate": [{"op": "mean", "field": "log10pfu", "as": "log10pfu"}], "groupby": ["genotype"]},
                {"calculate": "(datum.genotype === 'wild type' ? 1 : 2) - 0.42", "as": "xpos"},
                {"calculate": "(datum.genotype === 'wild type' ? 1 : 2) + 0.42", "as": "xr"}
              ],
              "mark": {"type": "rule", "color": "#222", "strokeWidth": 1.2},
              "encoding": {"x2": {"field": "xr"}}
            },
            {
              "data": {"name": "titreBrackets"},
              "transform": [{"filter": "datum.tissue === 'lung' && datum.infection === 'd3-1e4'"}, {"calculate": "1", "as": "xpos"}, {"calculate": "2", "as": "xr"}],
              "mark": {"type": "rule", "color": "#222", "strokeWidth": 1.1},
              "encoding": {"x2": {"field": "xr"}}
            },
            {
              "data": {"name": "titreBrackets"},
              "transform": [{"filter": "datum.tissue === 'lung' && datum.infection === 'd3-1e4'"}, {"calculate": "1", "as": "xl"}, {"calculate": "2", "as": "xr"}, {"fold": ["xl", "xr"], "as": ["end", "xpos"]}],
              "mark": {"type": "tick", "orient": "vertical", "size": 7, "thickness": 1.1, "color": "#222", "opacity": 1}
            },
            {
              "data": {"name": "titreBrackets"},
              "transform": [{"filter": "datum.tissue === 'lung' && datum.infection === 'd3-1e4'"}, {"calculate": "1.5", "as": "xpos"}],
              "mark": {"type": "text", "baseline": "bottom", "dy": -1, "fontSize": 14, "color": "#222"},
              "encoding": {"text": {"field": "label"}}
            }
          ]
        },
        {
          "width": 102,
          "height": 102,
          "view": {"stroke": "#222", "strokeWidth": 1.2},
          "encoding": {
            "x": {"field": "xpos", "type": "quantitative", "title": null, "scale": {"domain": [0.45, 2.45], "nice": false, "zero": false}, "axis": {"values": [1, 2], "labels": false, "tickSize": 4}},
            "y": {"field": "log10pfu", "type": "quantitative", "title": null, "scale": {"domain": [5, 6.5], "nice": false, "zero": false}, "axis": {"values": [5, 5.5, 6, 6.5], "format": ".1f", "labelFontSize": 12, "tickSize": 4, "labelPadding": 1}}
          },
          "layer": [
            {
              "data": {"name": "titre"},
              "transform": [
                {"filter": "datum.tissue === 'nasal tissue' && datum.infection === 'd3-1e4'"},
                {"calculate": "round(datum.log10pfu / 0.12)", "as": "bin"},
                {"window": [{"op": "row_number", "as": "r"}, {"op": "count", "as": "n"}], "groupby": ["genotype", "bin"], "sort": [{"field": "log10pfu"}], "frame": [null, null]},
                {"calculate": "(datum.genotype === 'wild type' ? 1 : 2) + (datum.r - (datum.n + 1) / 2) * min(0.21, 0.6 / datum.n)", "as": "xpos"}
              ],
              "mark": {"type": "point", "opacity": 1, "size": 60, "stroke": "#222", "strokeWidth": 1.2},
              "encoding": {
                "shape": {"field": "genotype", "type": "nominal", "scale": {"domain": ["wild type", "BST-2⁻/⁻"], "range": ["square", "circle"]}, "legend": null},
                "fill": {"field": "genotype", "type": "nominal", "scale": {"domain": ["wild type", "BST-2⁻/⁻"], "range": ["#222", "white"]}, "legend": null}
              }
            },
            {
              "data": {"name": "titre"},
              "transform": [
                {"filter": "datum.tissue === 'nasal tissue' && datum.infection === 'd3-1e4'"},
                {"aggregate": [{"op": "mean", "field": "log10pfu", "as": "log10pfu"}], "groupby": ["genotype"]},
                {"calculate": "(datum.genotype === 'wild type' ? 1 : 2) - 0.42", "as": "xpos"},
                {"calculate": "(datum.genotype === 'wild type' ? 1 : 2) + 0.42", "as": "xr"}
              ],
              "mark": {"type": "rule", "color": "#222", "strokeWidth": 1.2},
              "encoding": {"x2": {"field": "xr"}}
            },
            {
              "data": {"name": "titreBrackets"},
              "transform": [{"filter": "datum.tissue === 'nasal tissue' && datum.infection === 'd3-1e4'"}, {"calculate": "1", "as": "xpos"}, {"calculate": "2", "as": "xr"}],
              "mark": {"type": "rule", "color": "#222", "strokeWidth": 1.1},
              "encoding": {"x2": {"field": "xr"}}
            },
            {
              "data": {"name": "titreBrackets"},
              "transform": [{"filter": "datum.tissue === 'nasal tissue' && datum.infection === 'd3-1e4'"}, {"calculate": "1", "as": "xl"}, {"calculate": "2", "as": "xr"}, {"fold": ["xl", "xr"], "as": ["end", "xpos"]}],
              "mark": {"type": "tick", "orient": "vertical", "size": 7, "thickness": 1.1, "color": "#222", "opacity": 1}
            },
            {
              "data": {"name": "titreBrackets"},
              "transform": [{"filter": "datum.tissue === 'nasal tissue' && datum.infection === 'd3-1e4'"}, {"calculate": "1.5", "as": "xpos"}],
              "mark": {"type": "text", "baseline": "bottom", "dy": -1, "fontSize": 14, "color": "#222"},
              "encoding": {"text": {"field": "label"}}
            }
          ]
        },
        {
          "width": 1,
          "height": 102,
          "data": {"name": "conditions"},
          "transform": [{"filter": "datum.infection === 'd3-1e4'"}],
          "mark": {"type": "text", "align": "left", "baseline": "middle", "fontSize": 16, "lineBreak": "\n", "lineHeight": 19, "dx": -21, "dy": -9, "color": "#222"},
          "encoding": {"text": {"field": "label", "type": "nominal"}}
        },
        {"width": 53, "height": 1, "data": {"values": []}, "mark": {"type": "point", "opacity": 0}, "encoding": {}},
        {
          "width": 103,
          "height": 102,
          "view": {"stroke": "#222", "strokeWidth": 1.2},
          "encoding": {
            "x": {"field": "xpos", "type": "quantitative", "title": null, "scale": {"domain": [0.48, 2.48], "nice": false, "zero": false}, "axis": {"values": [1, 2], "labelExpr": "datum.value === 1 ? 'wild type' : 'BST-2⁻/⁻'", "labelAngle": -50, "labelAlign": "right", "labelBaseline": "middle", "labelFontSize": 15, "tickSize": 4, "labelPadding": 2}},
            "y": {"field": "log10pfu", "type": "quantitative", "title": null, "scale": {"domain": [2, 6], "nice": false, "zero": false}, "axis": {"values": [2, 3, 4, 5, 6], "format": ".1f", "labelFontSize": 12, "tickSize": 4, "labelPadding": 1}}
          },
          "layer": [
            {
              "data": {"name": "titre"},
              "transform": [
                {"filter": "datum.tissue === 'lung' && datum.infection === 'd7-1e4'"},
                {"calculate": "round(datum.log10pfu / 0.31)", "as": "bin"},
                {"window": [{"op": "row_number", "as": "r"}, {"op": "count", "as": "n"}], "groupby": ["genotype", "bin"], "sort": [{"field": "log10pfu"}], "frame": [null, null]},
                {"calculate": "(datum.genotype === 'wild type' ? 1 : 2) + (datum.r - (datum.n + 1) / 2) * min(0.21, 0.6 / datum.n)", "as": "xpos"}
              ],
              "mark": {"type": "point", "opacity": 1, "size": 60, "stroke": "#222", "strokeWidth": 1.2},
              "encoding": {
                "shape": {"field": "genotype", "type": "nominal", "scale": {"domain": ["wild type", "BST-2⁻/⁻"], "range": ["square", "circle"]}, "legend": null},
                "fill": {"field": "genotype", "type": "nominal", "scale": {"domain": ["wild type", "BST-2⁻/⁻"], "range": ["#222", "white"]}, "legend": null}
              }
            },
            {
              "data": {"name": "titre"},
              "transform": [
                {"filter": "datum.tissue === 'lung' && datum.infection === 'd7-1e4'"},
                {"aggregate": [{"op": "mean", "field": "log10pfu", "as": "log10pfu"}], "groupby": ["genotype"]},
                {"calculate": "(datum.genotype === 'wild type' ? 1 : 2) - 0.42", "as": "xpos"},
                {"calculate": "(datum.genotype === 'wild type' ? 1 : 2) + 0.42", "as": "xr"}
              ],
              "mark": {"type": "rule", "color": "#222", "strokeWidth": 1.2},
              "encoding": {"x2": {"field": "xr"}}
            },
            {
              "data": {"name": "titreBrackets"},
              "transform": [{"filter": "datum.tissue === 'lung' && datum.infection === 'd7-1e4'"}, {"calculate": "1", "as": "xpos"}, {"calculate": "2", "as": "xr"}],
              "mark": {"type": "rule", "color": "#222", "strokeWidth": 1.1},
              "encoding": {"x2": {"field": "xr"}}
            },
            {
              "data": {"name": "titreBrackets"},
              "transform": [{"filter": "datum.tissue === 'lung' && datum.infection === 'd7-1e4'"}, {"calculate": "1", "as": "xl"}, {"calculate": "2", "as": "xr"}, {"fold": ["xl", "xr"], "as": ["end", "xpos"]}],
              "mark": {"type": "tick", "orient": "vertical", "size": 7, "thickness": 1.1, "color": "#222", "opacity": 1}
            },
            {
              "data": {"name": "titreBrackets"},
              "transform": [{"filter": "datum.tissue === 'lung' && datum.infection === 'd7-1e4'"}, {"calculate": "1.5", "as": "xpos"}],
              "mark": {"type": "text", "baseline": "bottom", "dy": -1, "fontSize": 14, "color": "#222"},
              "encoding": {"text": {"field": "label"}}
            }
          ]
        },
        {
          "width": 102,
          "height": 102,
          "view": {"stroke": "#222", "strokeWidth": 1.2},
          "encoding": {
            "x": {"field": "xpos", "type": "quantitative", "title": null, "scale": {"domain": [0.45, 2.45], "nice": false, "zero": false}, "axis": {"values": [1, 2], "labelExpr": "datum.value === 1 ? 'wild type' : 'BST-2⁻/⁻'", "labelAngle": -50, "labelAlign": "right", "labelBaseline": "middle", "labelFontSize": 15, "tickSize": 4, "labelPadding": 2}},
            "y": {"field": "log10pfu", "type": "quantitative", "title": null, "scale": {"domain": [3, 5.5], "nice": false, "zero": false}, "axis": {"values": [3, 3.5, 4, 4.5, 5, 5.5], "format": ".1f", "labelFontSize": 12, "tickSize": 4, "labelPadding": 1}}
          },
          "layer": [
            {
              "data": {"name": "titre"},
              "transform": [
                {"filter": "datum.tissue === 'nasal tissue' && datum.infection === 'd7-1e4'"},
                {"calculate": "round(datum.log10pfu / 0.25)", "as": "bin"},
                {"window": [{"op": "row_number", "as": "r"}, {"op": "count", "as": "n"}], "groupby": ["genotype", "bin"], "sort": [{"field": "log10pfu"}], "frame": [null, null]},
                {"calculate": "(datum.genotype === 'wild type' ? 1 : 2) + (datum.r - (datum.n + 1) / 2) * min(0.21, 0.6 / datum.n)", "as": "xpos"}
              ],
              "mark": {"type": "point", "opacity": 1, "size": 60, "stroke": "#222", "strokeWidth": 1.2},
              "encoding": {
                "shape": {"field": "genotype", "type": "nominal", "scale": {"domain": ["wild type", "BST-2⁻/⁻"], "range": ["square", "circle"]}, "legend": null},
                "fill": {"field": "genotype", "type": "nominal", "scale": {"domain": ["wild type", "BST-2⁻/⁻"], "range": ["#222", "white"]}, "legend": null}
              }
            },
            {
              "data": {"name": "titre"},
              "transform": [
                {"filter": "datum.tissue === 'nasal tissue' && datum.infection === 'd7-1e4'"},
                {"aggregate": [{"op": "mean", "field": "log10pfu", "as": "log10pfu"}], "groupby": ["genotype"]},
                {"calculate": "(datum.genotype === 'wild type' ? 1 : 2) - 0.42", "as": "xpos"},
                {"calculate": "(datum.genotype === 'wild type' ? 1 : 2) + 0.42", "as": "xr"}
              ],
              "mark": {"type": "rule", "color": "#222", "strokeWidth": 1.2},
              "encoding": {"x2": {"field": "xr"}}
            },
            {
              "data": {"name": "titreBrackets"},
              "transform": [{"filter": "datum.tissue === 'nasal tissue' && datum.infection === 'd7-1e4'"}, {"calculate": "1", "as": "xpos"}, {"calculate": "2", "as": "xr"}],
              "mark": {"type": "rule", "color": "#222", "strokeWidth": 1.1},
              "encoding": {"x2": {"field": "xr"}}
            },
            {
              "data": {"name": "titreBrackets"},
              "transform": [{"filter": "datum.tissue === 'nasal tissue' && datum.infection === 'd7-1e4'"}, {"calculate": "1", "as": "xl"}, {"calculate": "2", "as": "xr"}, {"fold": ["xl", "xr"], "as": ["end", "xpos"]}],
              "mark": {"type": "tick", "orient": "vertical", "size": 7, "thickness": 1.1, "color": "#222", "opacity": 1}
            },
            {
              "data": {"name": "titreBrackets"},
              "transform": [{"filter": "datum.tissue === 'nasal tissue' && datum.infection === 'd7-1e4'"}, {"calculate": "1.5", "as": "xpos"}],
              "mark": {"type": "text", "baseline": "bottom", "dy": -1, "fontSize": 14, "color": "#222"},
              "encoding": {"text": {"field": "label"}}
            }
          ]
        },
        {
          "width": 1,
          "height": 102,
          "data": {"name": "conditions"},
          "transform": [{"filter": "datum.infection === 'd7-1e4'"}],
          "mark": {"type": "text", "align": "left", "baseline": "middle", "fontSize": 16, "lineBreak": "\n", "lineHeight": 19, "dx": -21, "dy": -9, "color": "#222"},
          "encoding": {"text": {"field": "label", "type": "nominal"}}
        }
      ]
    }
  ],
  "config": {
    "font": "Liberation Sans",
    "view": {"stroke": null},
    "axis": {"grid": false, "domainColor": "#222", "domainWidth": 1.2, "tickColor": "#222", "tickWidth": 1.2, "labelColor": "#222", "titleColor": "#222", "titleFontWeight": "normal", "labelFlush": false, "labelOverlap": false, "labelBound": false},
    "legend": {"labelColor": "#222"},
    "title": {"color": "#222", "fontWeight": "normal"}
  }
}
